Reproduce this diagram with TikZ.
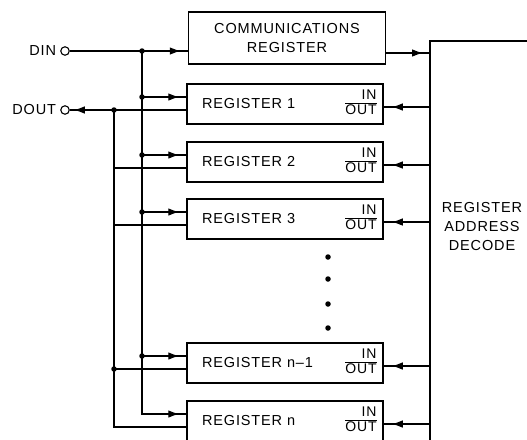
\documentclass[tikz,border=0pt]{standalone}
\usepackage{fontspec}
\setmainfont{Liberation Sans}[LetterSpace=6]
\usetikzlibrary{arrows.meta,positioning,decorations.markings}
\newcommand{\inout}{\renewcommand{\arraystretch}{0.9}\setlength{\arrayrulewidth}{1.1pt}%
  \begin{tabular}{@{}r@{}}IN\\\hline OUT\end{tabular}}

\begin{document}
\begin{tikzpicture}[x=1pt, y=-1pt,
  wire/.style={line width=1.1pt},
  midtip/.style={postaction={decorate}, decoration={markings,
      mark=at position #1 with {\arrow{Latex[length=11pt,width=7.5pt]}}}},
  blk/.style={draw=black, line width=1.5pt},
  reg/.style={blk, minimum width=196pt, minimum height=40pt,
              text width=166pt, inner xsep=15pt, align=left,
              font=\fontsize{14.5}{16}\selectfont},
  io/.style={inner sep=0pt, font=\fontsize{14}{14}\selectfont},
  term/.style={circle, draw=black, line width=1.1pt, inner sep=0pt,
               minimum size=8.5pt},
  lbl/.style={inner sep=0pt, font=\fontsize{14.5}{16}\selectfont},
  dot/.style={circle, fill=black, inner sep=0pt, minimum size=5.5pt}
]
\useasboundingbox (0,0) rectangle (527,439);
\clip (0,0) rectangle (527,439);

% blocks
\node[blk, minimum width=197pt, minimum height=52pt, align=center,
      font=\fontsize{14.5}{19}\selectfont] (comm) at (287,38) {COMMUNICATIONS\\REGISTER};
\node[reg] (r1)  at (285,104) {REGISTER 1};
\node[reg] (r2)  at (285,162) {REGISTER 2};
\node[reg] (r3)  at (285,219) {REGISTER 3};
\node[reg] (rn1) at (285,363) {REGISTER n–1};
\node[reg] (rn)  at (285,421) {REGISTER n};

\node[blk, anchor=north west, minimum width=120pt, minimum height=440pt] (dec) at (429,40) {};
\node[lbl, align=center, font=\fontsize{14.5}{19}\selectfont] (dectxt) at (482,227)
  {REGISTER\\ADDRESS\\DECODE};

\foreach \r in {r1,r2,r3,rn1,rn}{
  \node[io, left=7pt of \r.east] (\r-io) {\inout};
  \coordinate (\r-in)  at ([yshift=7pt]\r.west);
  \coordinate (\r-out) at ([yshift=-6pt]\r.west);
  \coordinate (\r-dec) at ([yshift=-3pt]\r.east);
}
\coordinate (comm-dec) at ([yshift=-15pt]comm.east);

% pins
\node[term] (din)  at (65,51)  {};
\node[lbl, left=4pt of din] (dinlbl) {DIN};
\node[term] (dout) at (65,110) {};
\node[lbl, left=4pt of dout] (doutlbl) {DOUT};

\coordinate (inbus)  at (142,51);
\coordinate (outbus) at (114,110);

% data in
\draw[wire, midtip=-7pt] (din) -- (din -| comm.west);
\node[dot] at (inbus) {};
\foreach \r in {r1,r2,r3,rn1}{
  \draw[wire, midtip=-7pt] (inbus |- \r-in) -- (\r-in);
  \node[dot] at (inbus |- \r-in) {};
}
\draw[wire, midtip=-7pt] (inbus) |- (rn-in);

% data out
\draw[wire, midtip=-4pt] (r1-out) -- (dout);
\foreach \r in {r2,r3,rn1}
  \draw[wire] (\r-out) -- (outbus |- \r-out);
\draw[wire] (outbus) |- (rn-out);
\node[dot] at (outbus) {};
\node[dot] at (outbus |- rn1-out) {};

% address decode
\draw[wire, midtip=-6pt] (comm-dec) -- (dec.west |- comm-dec);
\foreach \r in {r1,r2,r3,rn1,rn}
  \draw[wire, midtip=-8pt] (dec.west |- \r-dec) -- (\r-dec);

% continuation dots
\foreach \y in {257,279,304,328}
  \node[dot] at (328,\y) {};
\end{tikzpicture}
\end{document}
